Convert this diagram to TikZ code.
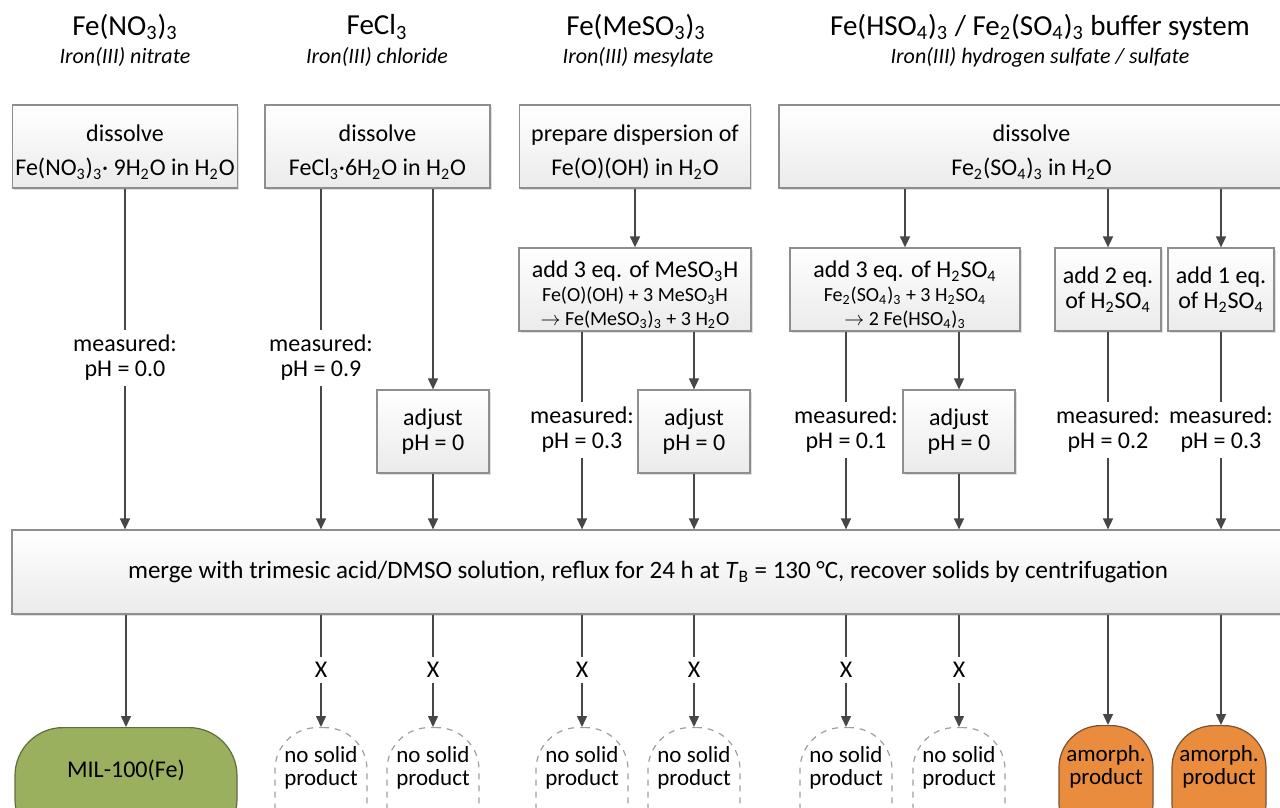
\documentclass[tikz,border=0pt]{standalone}
\usepackage{fontspec}
\setmainfont{Carlito}
\usetikzlibrary{arrows.meta}
\usetikzlibrary{shadows}

\newcommand{\chsub}[1]{\textsubscript{#1}}
\newcommand{\flowbody}{\fontsize{12}{12.5}\selectfont}
\newcommand{\flowtop}{\fontsize{12}{17}\selectfont}
\newcommand{\flowsmall}{\fontsize{10}{12}\selectfont}
\newcommand{\flowhead}{\fontsize{14.5}{17}\selectfont}
\newcommand{\flowname}{\fontsize{11}{13}\selectfont\itshape}
\newcommand{\topstrut}{\rule{0pt}{14pt}}

\definecolor{linegray}{HTML}{474747}
\definecolor{boxline}{HTML}{8E8E8E}
\definecolor{milgreen}{HTML}{9BB05E}
\definecolor{milline}{HTML}{5F6E3A}
\definecolor{amorange}{HTML}{EA8C3E}
\definecolor{amline}{HTML}{7A5230}

\tikzset{
  stepbox/.style={draw=boxline, line width=0.6pt, top color=white, bottom color=black!8,
    drop shadow={shadow xshift=0.8pt, shadow yshift=-0.8pt, opacity=0.25},
    align=center, inner sep=1pt, font=\flowbody, minimum height=41.5pt},
  topbox/.style={stepbox, font=\flowtop},
  adjbox/.style={stepbox, minimum width=56pt},
  meas/.style={align=center, font=\flowbody, inner xsep=1pt, inner ysep=2.5pt},
  cross/.style={font=\flowbody, inner sep=2.5pt},
  nosolid/.style={draw=gray!75, dashed, line width=0.6pt, rounded corners=21pt, anchor=north,
    minimum width=46pt, minimum height=60pt},
  milbox/.style={draw=milline, fill=milgreen, line width=0.6pt, rounded corners=24pt, anchor=north,
    minimum width=111pt, minimum height=60pt},
  ambox/.style={draw=amline, fill=amorange, line width=0.6pt, rounded corners=21pt, anchor=north,
    minimum width=47pt, minimum height=60pt},
  endtext/.style={align=center, font=\fontsize{11.5}{11.5}\selectfont},
  conn/.style={draw=linegray, line width=0.75pt},
  arr/.style={conn, -{Triangle[length=5.5pt,width=5pt]}}
}

\begin{document}
\begin{tikzpicture}[x=0.5pt, y=-0.5pt]
\useasboundingbox (0,0) rectangle (1280,808);
\clip (0,0) rectangle (1280,808);
\fill[white] (0,0) rectangle (1280,808);

% headers
\node[font=\flowhead] (hNit) at (125,27) {Fe(NO\chsub{3})\chsub{3}};
\node[font=\flowname] (nNit) at (125,57) {Iron(III) nitrate};
\node[font=\flowhead] (hChl) at (377,27) {FeCl\chsub{3}};
\node[font=\flowname] (nChl) at (377,57) {Iron(III) chloride};
\node[font=\flowhead] (hMes) at (636,27) {Fe(MeSO\chsub{3})\chsub{3}};
\node[font=\flowname] (nMes) at (638,57) {Iron(III) mesylate};
\node[font=\flowhead] (hSul) at (1040,27) {Fe(HSO\chsub{4})\chsub{3} / Fe\chsub{2}(SO\chsub{4})\chsub{3} buffer system};
\node[font=\flowname] (nSul) at (1040,57) {Iron(III) hydrogen sulfate / sulfate};

% first row
\node[topbox, minimum width=112.5pt] (dNit) at (125,146.5) {\topstrut dissolve\\Fe(NO\chsub{3})\chsub{3}· 9H\chsub{2}O in H\chsub{2}O};
\node[topbox, minimum width=112.5pt] (dChl) at (377.5,146.5) {\topstrut dissolve\\FeCl\chsub{3}·6H\chsub{2}O in H\chsub{2}O};
\node[topbox, minimum width=115.5pt] (dMes) at (635,146.5) {\topstrut prepare dispersion of\\Fe(O)(OH) in H\chsub{2}O};
\node[topbox, minimum width=252.5pt] (dSul) at (1031.5,146.5) {\topstrut dissolve\\Fe\chsub{2}(SO\chsub{4})\chsub{3} in H\chsub{2}O};

% acid additions
\node[stepbox, minimum width=116pt, font=\flowsmall] (aMes) at (635,289.5)
  {{\flowbody\topstrut add 3 eq. of MeSO\chsub{3}H}\\Fe(O)(OH) + 3 MeSO\chsub{3}H\\$\rightarrow$ Fe(MeSO\chsub{3})\chsub{3} + 3 H\chsub{2}O};
\node[stepbox, minimum width=115pt, font=\flowsmall] (aSul) at (905,289.5)
  {{\flowbody\topstrut add 3 eq. of H\chsub{2}SO\chsub{4}}\\Fe\chsub{2}(SO\chsub{4})\chsub{3} + 3 H\chsub{2}SO\chsub{4}\\$\rightarrow$ 2 Fe(HSO\chsub{4})\chsub{3}};
\node[stepbox, minimum width=53pt] (aTwo) at (1108,289.5) {add 2 eq.\\of H\chsub{2}SO\chsub{4}};
\node[stepbox, minimum width=53pt] (aOne) at (1221,289.5) {add 1 eq.\\of H\chsub{2}SO\chsub{4}};

% pH values
\node[meas] (mNit) at (125,358) {measured:\\pH = 0.0};
\node[meas] (mChl) at (321,358) {measured:\\pH = 0.9};
\node[adjbox] (jChl) at (433,431.5) {adjust\\pH = 0};
\node[meas] (mMes) at (582,430) {measured:\\pH = 0.3};
\node[adjbox] (jMes) at (694,431.5) {adjust\\pH = 0};
\node[meas] (mSul) at (846,430) {measured:\\pH = 0.1};
\node[adjbox] (jSul) at (959,431.5) {adjust\\pH = 0};
\node[meas] (mTwo) at (1108,430) {measured:\\pH = 0.2};
\node[meas] (mOne) at (1221,430) {measured:\\pH = 0.3};

% synthesis
\node[stepbox, minimum width=636pt, minimum height=42pt, font=\fontsize{12.5}{13}\selectfont] (merge) at (648,572)
  {merge with trimesic acid/DMSO solution, reflux for 24 h at \textit{T}\chsub{B} = 130 °C, recover solids by centrifugation};

% crosses
\node[cross] (xChl) at (321,670) {X};
\node[cross] (xAdC) at (433,670) {X};
\node[cross] (xMes) at (582,670) {X};
\node[cross] (xAdM) at (694,670) {X};
\node[cross] (xSul) at (846,670) {X};
\node[cross] (xAdS) at (959,670) {X};

% products
\node[milbox] (mil) at (126,727) {};
\node[endtext, font=\flowbody] (milT) at (126,770) {MIL-100(Fe)};
\node[nosolid] (pChl) at (321,727) {};
\node[endtext] (pChlT) at (321,768) {no solid\\product};
\node[nosolid] (pAdC) at (433,727) {};
\node[endtext] (pAdCT) at (433,768) {no solid\\product};
\node[nosolid] (pMes) at (582,727) {};
\node[endtext] (pMesT) at (582,768) {no solid\\product};
\node[nosolid] (pAdM) at (694,727) {};
\node[endtext] (pAdMT) at (694,768) {no solid\\product};
\node[nosolid] (pSul) at (846,727) {};
\node[endtext] (pSulT) at (846,768) {no solid\\product};
\node[nosolid] (pAdS) at (959,727) {};
\node[endtext] (pAdST) at (959,768) {no solid\\product};
\node[ambox] (pTwo) at (1106,725) {};
\node[endtext] (pTwoT) at (1106,767) {amorph.\\product};
\node[ambox] (pOne) at (1219,725) {};
\node[endtext] (pOneT) at (1219,767) {amorph.\\product};

% connectors, top part
\draw[conn] (dNit) -- (mNit);
\draw[arr] (mNit) -- (mNit |- merge.north);
\draw[conn] (mChl |- dChl.south) -- (mChl);
\draw[arr] (mChl) -- (mChl |- merge.north);
\draw[arr] (jChl |- dChl.south) -- (jChl);
\draw[arr] (jChl) -- (jChl |- merge.north);
\draw[arr] (dMes) -- (aMes);
\draw[conn] (mMes |- aMes.south) -- (mMes);
\draw[arr] (mMes) -- (mMes |- merge.north);
\draw[arr] (jMes |- aMes.south) -- (jMes);
\draw[arr] (jMes) -- (jMes |- merge.north);
\draw[arr] (aSul |- dSul.south) -- (aSul);
\draw[arr] (aTwo |- dSul.south) -- (aTwo);
\draw[arr] (aOne |- dSul.south) -- (aOne);
\draw[conn] (mSul |- aSul.south) -- (mSul);
\draw[arr] (mSul) -- (mSul |- merge.north);
\draw[arr] (jSul |- aSul.south) -- (jSul);
\draw[arr] (jSul) -- (jSul |- merge.north);
\draw[conn] (aTwo) -- (mTwo);
\draw[arr] (mTwo) -- (mTwo |- merge.north);
\draw[conn] (aOne) -- (mOne);
\draw[arr] (mOne) -- (mOne |- merge.north);

% connectors, bottom part
\draw[arr] (mil |- merge.south) -- (mil.north);
\draw[conn] (xChl |- merge.south) -- (xChl);
\draw[arr] (xChl) -- (pChl.north);
\draw[conn] (xAdC |- merge.south) -- (xAdC);
\draw[arr] (xAdC) -- (pAdC.north);
\draw[conn] (xMes |- merge.south) -- (xMes);
\draw[arr] (xMes) -- (pMes.north);
\draw[conn] (xAdM |- merge.south) -- (xAdM);
\draw[arr] (xAdM) -- (pAdM.north);
\draw[conn] (xSul |- merge.south) -- (xSul);
\draw[arr] (xSul) -- (pSul.north);
\draw[conn] (xAdS |- merge.south) -- (xAdS);
\draw[arr] (xAdS) -- (pAdS.north);
\draw[arr] (mTwo |- merge.south) -- (mTwo |- pTwo.north);
\draw[arr] (mOne |- merge.south) -- (mOne |- pOne.north);

\end{tikzpicture}
\end{document}
